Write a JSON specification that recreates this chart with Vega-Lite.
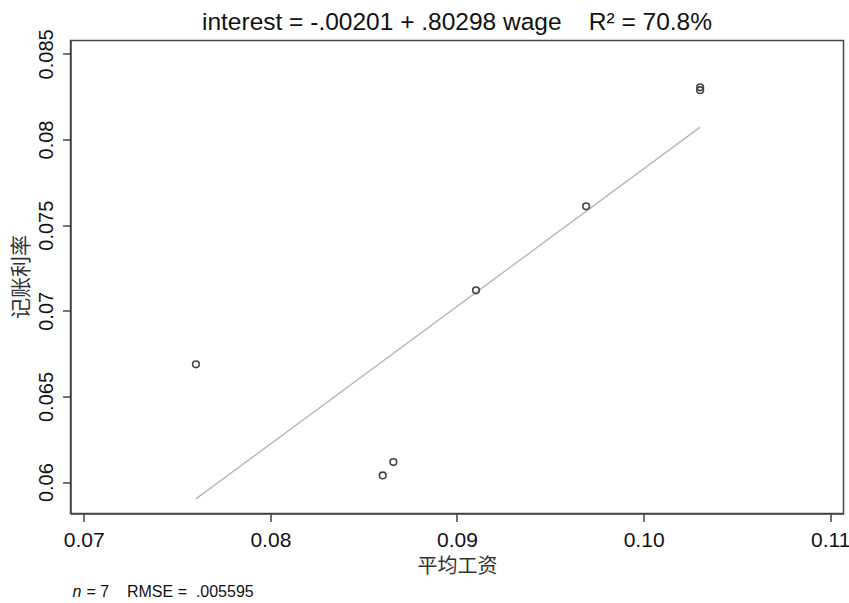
{
  "$schema": "https://vega.github.io/schema/vega-lite/v6.json",
  "width": 773,
  "height": 473,
  "autosize": "none",
  "padding": {"left": 70.5, "top": 40.5, "right": 5.5, "bottom": 89.5},
  "background": "white",
  "title": {
    "text": "interest = -.00201 + .80298 wage\u00a0\u00a0\u00a0\u00a0R² = 70.8%",
    "font": "Liberation Sans",
    "fontSize": 24.5,
    "fontWeight": "normal",
    "color": "#111111",
    "anchor": "middle",
    "frame": "group",
    "offset": -7
  },
  "config": {
    "view": {"stroke": "#444444", "strokeWidth": 1.5},
    "axis": {
      "grid": false,
      "domainColor": "#444444",
      "domainWidth": 1.5,
      "tickColor": "#444444",
      "tickWidth": 1.5,
      "tickSize": 8,
      "labelFont": "Liberation Sans",
      "labelFontSize": 20,
      "labelColor": "#111111",
      "titleFont": "Noto Sans CJK SC",
      "titleFontWeight": "normal",
      "titleColor": "#333333"
    }
  },
  "datasets": {
    "points": [
      {"wage": 0.07601, "interest": 0.06688},
      {"wage": 0.08602, "interest": 0.06039},
      {"wage": 0.08659, "interest": 0.06117},
      {"wage": 0.09102, "interest": 0.0712},
      {"wage": 0.09692, "interest": 0.0761},
      {"wage": 0.10303, "interest": 0.08305},
      {"wage": 0.10303, "interest": 0.08288}
    ],
    "fit": [
      {"wage": 0.07601, "interest": 0.05902},
      {"wage": 0.10303, "interest": 0.08072}
    ],
    "note": [
      {"wage": 0.06929, "interest": 0.0536, "n": "n", "rest": "= 7\u00a0\u00a0\u00a0\u00a0RMSE =\u00a0\u00a0.005595"}
    ]
  },
  "encoding": {
    "x": {
      "field": "wage",
      "type": "quantitative",
      "scale": {"domain": [0.06929, 0.11071], "nice": false, "zero": false},
      "axis": {
        "values": [0.07, 0.08, 0.09, 0.1, 0.11],
        "format": ".2f",
        "labelPadding": 8,
        "labelFontSize": 21,
        "title": "平均工资",
        "titleFontSize": 20,
        "titleY": 53,
        "titleBaseline": "middle"
      }
    },
    "y": {
      "field": "interest",
      "type": "quantitative",
      "scale": {"domain": [0.05817, 0.08578], "nice": false, "zero": false},
      "axis": {
        "values": [0.06, 0.065, 0.07, 0.075, 0.08, 0.085],
        "format": ".3~f",
        "labelAngle": -90,
        "labelAlign": "center",
        "labelBaseline": "alphabetic",
        "labelPadding": 10,
        "title": "记账利率",
        "titleFontSize": 21,
        "titleAngle": -90,
        "titleX": -49,
        "titleY": 236,
        "titleAlign": "center",
        "titleBaseline": "middle"
      }
    }
  },
  "layer": [
    {
      "data": {"name": "fit"},
      "mark": {"type": "line", "color": "#b8b8b8", "strokeWidth": 1.4}
    },
    {
      "data": {"name": "points"},
      "mark": {"type": "point", "shape": "circle", "filled": false, "color": "#444444", "strokeWidth": 1.6, "size": 44, "opacity": 1}
    },
    {
      "data": {"name": "note"},
      "mark": {"type": "text", "font": "Liberation Sans", "fontSize": 16, "fontStyle": "italic", "align": "left", "baseline": "middle", "color": "#111111", "dx": 2},
      "encoding": {"text": {"field": "n"}}
    },
    {
      "data": {"name": "note"},
      "mark": {"type": "text", "font": "Liberation Sans", "fontSize": 16, "align": "left", "baseline": "middle", "color": "#111111", "dx": 16},
      "encoding": {"text": {"field": "rest"}}
    }
  ]
}
